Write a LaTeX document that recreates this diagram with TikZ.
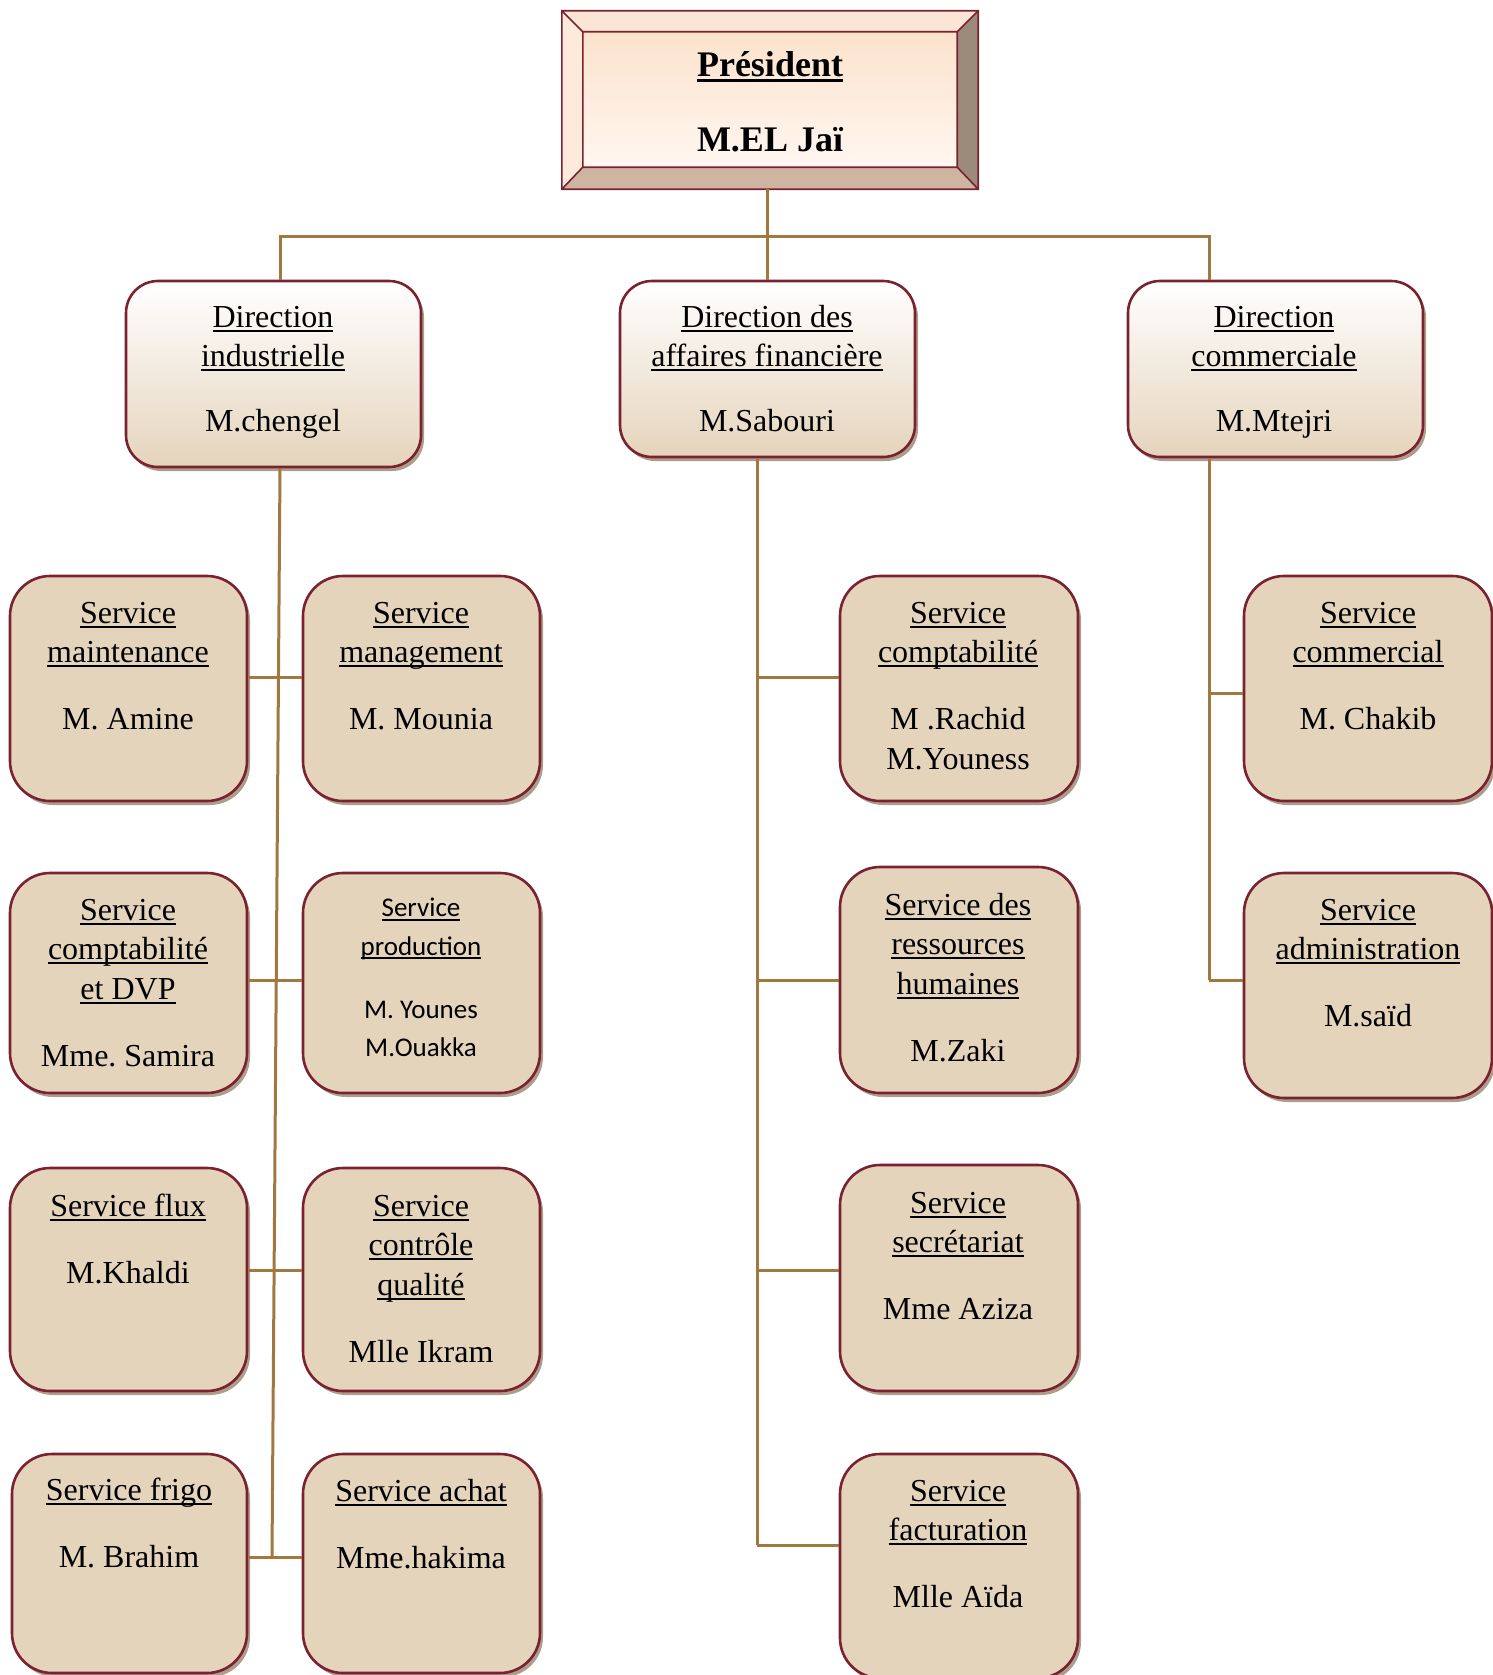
\documentclass[tikz,border=0pt]{standalone}
\usepackage{fontspec}
\setmainfont{Liberation Serif}
\newfontfamily\carl{Carlito}
\usetikzlibrary{shadows,calc}
\frenchspacing
\definecolor{bord}{RGB}{122,34,48}
\definecolor{boxfill}{RGB}{229,212,188}
\definecolor{connc}{RGB}{160,120,64}
\definecolor{shadc}{RGB}{172,158,138}
\definecolor{bevtop}{RGB}{251,229,212}
\definecolor{bevleft}{RGB}{253,234,218}
\definecolor{bevright}{RGB}{156,138,122}
\definecolor{bevbot}{RGB}{205,181,162}
\definecolor{intop}{RGB}{252,226,204}
\definecolor{inbot}{RGB}{255,247,241}
\newcommand\ul[1]{\strut\setbox0\hbox{#1}\rlap{\rule[-4.6pt]{\wd0}{2pt}}\box0}
\newcommand\ulc[1]{\strut\setbox0\hbox{#1}\rlap{\rule[-3.8pt]{\wd0}{1.8pt}}\box0}
\newcommand\ulb[1]{\strut\setbox0\hbox{#1}\rlap{\rule[-5.5pt]{\wd0}{3pt}}\box0}
\tikzset{
  shad/.style={drop shadow={shadow xshift=3pt,shadow yshift=-4pt,fill=shadc,opacity=1}},
  svcbox/.style={draw=bord,line width=2.6pt,fill=boxfill,rounded corners=40pt,inner sep=0pt,shad},
  dirbox/.style={draw=bord,line width=2.6pt,top color=white,bottom color=boxfill,rounded corners=32pt,inner sep=0pt,shad},
  txt/.style={anchor=north,yshift=18.8pt,align=center,inner sep=0pt,font=\fontsize{32}{39.5}\selectfont\frenchspacing},
  conn/.style={draw=connc,line width=3pt},
}
\begin{document}
\begin{tikzpicture}[x=1pt,y=-1pt]
\useasboundingbox (0,0) rectangle (1493,1675);
% ---------- President ----------
\node[minimum width=416pt,minimum height=178pt,inner sep=0pt] (pres) at (770,100) {};
\coordinate (pnw) at (pres.north west);
\coordinate (pne) at (pres.north east);
\coordinate (psw) at (pres.south west);
\coordinate (pse) at (pres.south east);
\coordinate (inw) at ($(pnw)+(21,21)$);
\coordinate (ine) at ($(pne)+(-21,21)$);
\coordinate (isw) at ($(psw)+(21,-22)$);
\coordinate (ise) at ($(pse)+(-21,-22)$);
\fill[bevtop] (pnw) -- (pne) -- (ine) -- (inw) -- cycle;
\fill[bevbot] (psw) -- (pse) -- (ise) -- (isw) -- cycle;
\fill[bevleft] (pnw) -- (psw) -- (isw) -- (inw) -- cycle;
\fill[bevright] (pne) -- (pse) -- (ise) -- (ine) -- cycle;
\shade[top color=intop,bottom color=inbot] (inw) rectangle (ise);
\draw[bord,line width=1.6pt] (pnw) rectangle (pse) (inw) rectangle (ise)
  (pnw) -- (inw) (pne) -- (ine) (psw) -- (isw) (pse) -- (ise);
\node[anchor=north,yshift=16pt,align=center,inner sep=0pt,font=\fontsize{36}{40}\selectfont\bfseries] (prestxt) at (770,64) {\ulb{Président}\\[35pt]\strut M.EL Jaï};
% ---------- Directions ----------
\node[dirbox,minimum width=295pt,minimum height=186pt] (dl) at (273.5,374) {};
\node[dirbox,minimum width=295pt,minimum height=176pt] (dm) at (767.5,369) {};
\node[dirbox,minimum width=295pt,minimum height=176pt] (dr) at (1275.5,369) {};
\node[txt] (dltxt) at (273,318) {\ul{Direction}\\\ul{industrielle}\\[25pt]\strut M.chengel};
\node[txt] (dmtxt) at (767,318) {\ul{Direction des}\\\ul{affaires financière}\\[25pt]\strut M.Sabouri};
\node[txt] (drtxt) at (1274,318) {\ul{Direction}\\\ul{commerciale}\\[25pt]\strut M.Mtejri};
% ---------- Services ----------
\node[svcbox,minimum width=237pt,minimum height=225pt] (l1) at (128.5,688.5) {};
\node[svcbox,minimum width=237pt,minimum height=225pt] (r1) at (421.5,688.5) {};
\node[svcbox,minimum width=238pt,minimum height=225pt] (m1) at (959,688.5) {};
\node[svcbox,minimum width=248pt,minimum height=225pt] (c1) at (1368,688.5) {};
\node[svcbox,minimum width=237pt,minimum height=220pt] (l2) at (128.5,983) {};
\node[svcbox,minimum width=237pt,minimum height=220pt] (r2) at (421.5,983) {};
\node[svcbox,minimum width=238pt,minimum height=226pt] (m2) at (959,980) {};
\node[svcbox,minimum width=248pt,minimum height=225pt] (c2) at (1368,985.5) {};
\node[svcbox,minimum width=237pt,minimum height=223pt] (l3) at (128.5,1279.5) {};
\node[svcbox,minimum width=237pt,minimum height=223pt] (r3) at (421.5,1279.5) {};
\node[svcbox,minimum width=238pt,minimum height=226pt] (m3) at (959,1278) {};
\node[svcbox,minimum width=235pt,minimum height=219pt] (l4) at (129.5,1563.5) {};
\node[svcbox,minimum width=237pt,minimum height=219pt] (r4) at (421.5,1563.5) {};
\node[svcbox,minimum width=238pt,minimum height=224pt] (m4) at (959,1566) {};
% texts
\node[txt] (l1t) at (128,614) {\ul{Service}\\\ul{maintenance}\\[27.5pt]\strut M. Amine};
\node[txt] (r1t) at (421,614) {\ul{Service}\\\ul{management}\\[27.5pt]\strut M. Mounia};
\node[txt] (m1t) at (958,614) {\ul{Service}\\\ul{comptabilité}\\[27.5pt]\strut M .Rachid\\\strut M.Youness};
\node[txt] (c1t) at (1368,614) {\ul{Service}\\\ul{commercial}\\[27.5pt]\strut M. Chakib};
\node[txt] (l2t) at (128,911) {\ul{Service}\\\ul{comptabilité}\\\ul{et DVP}\\[27.5pt]\strut Mme. Samira};
\node[txt,yshift=1.4pt,font=\carl\fontsize{27}{38.5}\selectfont\frenchspacing] (r2t) at (421,910) {\ulc{Service}\\\ulc{production}\\[24.5pt]\strut M. Younes\\\strut M.Ouakka};
\node[txt] (m2t) at (958,906) {\ul{Service des}\\\ul{ressources}\\\ul{humaines}\\[27.5pt]\strut M.Zaki};
\node[txt] (c2t) at (1368,911) {\ul{Service}\\\ul{administration}\\[27.5pt]\strut M.saïd};
\node[txt] (l3t) at (128,1207) {\ul{Service flux}\\[27.5pt]\strut M.Khaldi};
\node[txt] (r3t) at (421,1207) {\ul{Service}\\\ul{contrôle}\\\ul{qualité}\\[27.5pt]\strut Mlle Ikram};
\node[txt] (m3t) at (958,1204) {\ul{Service}\\\ul{secrétariat}\\[27.5pt]\strut Mme Aziza};
\node[txt] (l4t) at (129,1491) {\ul{Service frigo}\\[27.5pt]\strut M. Brahim};
\node[txt] (r4t) at (421,1492) {\ul{Service achat}\\[27.5pt]\strut Mme.hakima};
\node[txt] (m4t) at (958,1492) {\ul{Service}\\\ul{facturation}\\[27.5pt]\strut Mlle Aïda};
% ---------- Connectors ----------
\coordinate (stem) at (767,236);
\coordinate (busL) at (280,236);
\coordinate (busR) at (1209,236);
\coordinate (lbot) at (272,1557);
\coordinate (mt) at (757,0);
\coordinate (y1) at (0,677);
\coordinate (yc1) at (0,693);
\coordinate (y2) at (0,980);
\coordinate (y3) at (0,1270);
\coordinate (y4) at (0,1557);
\coordinate (y4m) at (0,1545);
\draw[conn] (stem |- pres.south) -- (stem |- dm.north);
\draw[conn] (busL |- dl.north) -- (busL) -- (busR) -- (busR |- dr.north);
\draw[conn] (busL |- dl.south) -- (lbot);
\draw[conn] (l1.east |- y1) -- (r1.west |- y1);
\draw[conn] (l2.east |- y2) -- (r2.west |- y2);
\draw[conn] (l3.east |- y3) -- (r3.west |- y3);
\draw[conn] (l4.east |- y4) -- (r4.west |- y4);
\draw[conn] (mt |- dm.south) -- (mt |- y4m);
\draw[conn] (mt |- y1) -- (m1.west |- y1);
\draw[conn] (mt |- y2) -- (m2.west |- y2);
\draw[conn] (mt |- y3) -- (m3.west |- y3);
\draw[conn] (mt |- y4m) -- (m4.west |- y4m);
\draw[conn] (busR |- dr.south) -- (busR |- y2);
\draw[conn] (busR |- yc1) -- (c1.west |- yc1);
\draw[conn] (busR |- y2) -- (c2.west |- y2);
\end{tikzpicture}
\end{document}
